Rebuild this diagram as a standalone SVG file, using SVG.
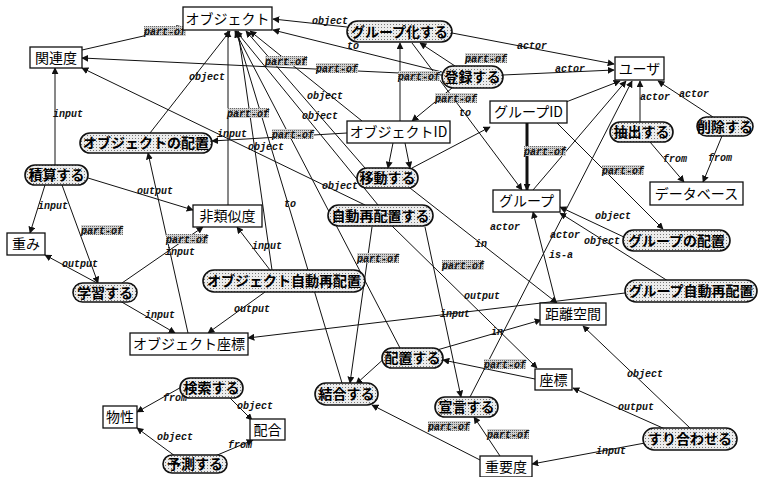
<svg xmlns="http://www.w3.org/2000/svg" width="758" height="477" viewBox="0 0 758 477">
<style>
.e{stroke:#111;stroke-width:1;fill:none;marker-end:url(#ar)}
.t{stroke:#111;stroke-width:3;fill:none;marker-end:url(#ar)}
.l{font-family:"Liberation Mono",monospace;font-size:10px;font-weight:bold;font-style:italic;fill:#111;text-anchor:middle}
.pb{fill:url(#dl)}
.r{fill:#fff;stroke:#111;stroke-width:1.3}
.p{fill:url(#dt);stroke:#111;stroke-width:1.6}
.rt{font-family:"Noto Sans CJK JP",sans-serif;font-size:14px;fill:#000;text-anchor:middle}
.pt{font-family:"Noto Sans CJK JP",sans-serif;font-size:14px;font-weight:bold;fill:#000;text-anchor:middle}
</style>
<defs>
<marker id="ar" viewBox="0 0 10 10" refX="9" refY="5" markerWidth="7" markerHeight="7" markerUnits="userSpaceOnUse" orient="auto"><path d="M0,0 L10,5 L0,10 z" fill="#111"/></marker>
<pattern id="dt" width="3" height="3" patternUnits="userSpaceOnUse"><rect width="3" height="3" fill="#ececec"/><rect width="1" height="1" fill="#777"/></pattern>
<pattern id="dl" width="2" height="2" patternUnits="userSpaceOnUse"><rect width="2" height="2" fill="#d0d0d0"/><rect width="1" height="1" fill="#666"/></pattern>
</defs>
<rect width="758" height="477" fill="#fff"/>
<g id="connectors">
<path class="e" d="M82,50 L183,27"/>
<path class="e" d="M442,75 L82,58"/>
<path class="e" d="M347,27 L273,19"/>
<path class="e" d="M442,72 L273,30"/>
<path class="e" d="M400,121 L400,43"/>
<path class="e" d="M455,66 L420,43"/>
<path class="e" d="M412,43 L522,190"/>
<path class="e" d="M452,88 L412,121"/>
<path class="e" d="M452,33 L614,64"/>
<path class="e" d="M503,75 L614,70"/>
<path class="e" d="M640,122 L640,81"/>
<path class="e" d="M713,117 L658,81"/>
<path class="e" d="M566,102 L620,81"/>
<path class="e" d="M533,190 L626,81"/>
<path class="e" d="M470,397 L632,81"/>
<path class="e" d="M650,142 L684,182"/>
<path class="e" d="M722,136 L703,182"/>
<path class="t" d="M527,123 L527,190"/>
<path class="e" d="M557,123 L663,229"/>
<path class="e" d="M626,238 L560,207"/>
<path class="e" d="M668,281 L560,213"/>
<path class="e" d="M625,293 L248,338"/>
<path class="e" d="M556,303 L533,212"/>
<path class="e" d="M410,188 L557,303"/>
<path class="e" d="M437,350 L541,320"/>
<path class="e" d="M392,226 L537,368"/>
<path class="e" d="M535,379 L443,360"/>
<path class="e" d="M690,428 L583,326"/>
<path class="e" d="M665,429 L573,388"/>
<path class="e" d="M645,443 L532,464"/>
<path class="e" d="M500,456 L474,417"/>
<path class="e" d="M482,461 L372,405"/>
<path class="e" d="M372,227 L350,383"/>
<path class="e" d="M342,383 L236,31"/>
<path class="e" d="M387,356 L356,384"/>
<path class="e" d="M425,227 L461,397"/>
<path class="e" d="M228,205 L228,31"/>
<path class="e" d="M272,270 L238,31"/>
<path class="e" d="M365,168 L246,31"/>
<path class="e" d="M362,121 L250,31"/>
<path class="e" d="M150,133 L230,31"/>
<path class="e" d="M347,133 L212,141"/>
<path class="e" d="M365,205 L82,68"/>
<path class="e" d="M55,165 L55,68"/>
<path class="e" d="M45,185 L30,233"/>
<path class="e" d="M62,185 L98,283"/>
<path class="e" d="M88,178 L193,210"/>
<path class="e" d="M97,283 L45,255"/>
<path class="e" d="M122,283 L203,227"/>
<path class="e" d="M120,301 L175,333"/>
<path class="e" d="M188,333 L148,153"/>
<path class="e" d="M270,270 L237,227"/>
<path class="e" d="M265,292 L208,333"/>
<path class="e" d="M185,385 L137,412"/>
<path class="e" d="M230,398 L252,420"/>
<path class="e" d="M175,456 L137,428"/>
<path class="e" d="M215,456 L253,440"/>
<path class="e" d="M400,348 L235,31"/>
<path class="e" d="M412,168 L490,127"/>
<path class="e" d="M393,143 L388,168"/>
<path class="e" d="M405,143 L410,168"/>
<path class="e" d="M378,205 L236,31"/>
</g>
<g id="labels">
<rect class="pb" x="144" y="26" width="42" height="10"/><text class="l" x="165" y="35">part-of</text>
<rect class="pb" x="265" y="56" width="42" height="10"/><text class="l" x="286" y="65">part-of</text>
<rect class="pb" x="316" y="63" width="42" height="10"/><text class="l" x="337" y="72">part-of</text>
<text class="l" x="330" y="24">object</text>
<text class="l" x="353" y="49">to</text>
<rect class="pb" x="398" y="71" width="42" height="10"/><text class="l" x="419" y="80">part-of</text>
<rect class="pb" x="465" y="53" width="42" height="10"/><text class="l" x="486" y="62">part-of</text>
<text class="l" x="465" y="116">to</text>
<rect class="pb" x="435" y="93" width="42" height="10"/><text class="l" x="456" y="102">part-of</text>
<text class="l" x="532" y="49">actor</text>
<text class="l" x="570" y="72">actor</text>
<text class="l" x="655" y="100">actor</text>
<text class="l" x="694" y="97">actor</text>
<text class="l" x="565" y="238">actor</text>
<text class="l" x="505" y="230">actor</text>
<text class="l" x="675" y="162">from</text>
<text class="l" x="720" y="161">from</text>
<rect class="pb" x="524" y="146" width="42" height="10"/><text class="l" x="545" y="155">part-of</text>
<rect class="pb" x="602" y="165" width="42" height="10"/><text class="l" x="623" y="174">part-of</text>
<text class="l" x="613" y="219">object</text>
<text class="l" x="602" y="244">object</text>
<text class="l" x="455" y="317">input</text>
<text class="l" x="561" y="258">is-a</text>
<text class="l" x="481" y="247">in</text>
<text class="l" x="497" y="335">in</text>
<text class="l" x="482" y="299">output</text>
<rect class="pb" x="442" y="260" width="42" height="10"/><text class="l" x="463" y="269">part-of</text>
<rect class="pb" x="484" y="359" width="42" height="10"/><text class="l" x="505" y="368">part-of</text>
<text class="l" x="645" y="377">object</text>
<text class="l" x="636" y="410">output</text>
<text class="l" x="611" y="454">input</text>
<rect class="pb" x="487" y="429" width="42" height="10"/><text class="l" x="508" y="438">part-of</text>
<rect class="pb" x="428" y="421" width="42" height="10"/><text class="l" x="449" y="430">part-of</text>
<rect class="pb" x="357" y="253" width="42" height="10"/><text class="l" x="378" y="262">part-of</text>
<text class="l" x="290" y="207">to</text>
<rect class="pb" x="227" y="108" width="42" height="10"/><text class="l" x="248" y="117">part-of</text>
<text class="l" x="266" y="150">object</text>
<text class="l" x="320" y="119">object</text>
<text class="l" x="325" y="99">object</text>
<text class="l" x="207" y="80">object</text>
<text class="l" x="232" y="137">input</text>
<rect class="pb" x="272" y="129" width="42" height="10"/><text class="l" x="293" y="138">part-of</text>
<text class="l" x="340" y="189">object</text>
<text class="l" x="68" y="117">input</text>
<text class="l" x="53" y="209">input</text>
<rect class="pb" x="81" y="225" width="42" height="10"/><text class="l" x="102" y="234">part-of</text>
<text class="l" x="155" y="194">output</text>
<text class="l" x="80" y="267">output</text>
<rect class="pb" x="166" y="234" width="42" height="10"/><text class="l" x="187" y="243">part-of</text>
<text class="l" x="180" y="255">input</text>
<text class="l" x="160" y="318">input</text>
<text class="l" x="267" y="249">input</text>
<text class="l" x="252" y="312">output</text>
<text class="l" x="175" y="401">from</text>
<text class="l" x="255" y="409">object</text>
<text class="l" x="175" y="440">object</text>
<text class="l" x="240" y="448">from</text>
</g>
<g id="n-obj"><rect class="r" x="183" y="7" width="89" height="23"/><text class="rt" x="227.5" y="23.5">オブジェクト</text></g>
<g id="n-kanren"><rect class="r" x="30" y="47" width="52" height="21"/><text class="rt" x="56" y="62.5">関連度</text></g>
<g id="n-user"><rect class="r" x="615" y="57" width="49" height="23"/><text class="rt" x="639.5" y="73.5">ユーザ</text></g>
<g id="n-objid"><rect class="r" x="347" y="121" width="103" height="22"/><text class="rt" x="398.5" y="137">オブジェクトID</text></g>
<g id="n-grpid"><rect class="r" x="490" y="101" width="77" height="22"/><text class="rt" x="528.5" y="117">グループID</text></g>
<g id="n-grp"><rect class="r" x="493" y="190" width="67" height="22"/><text class="rt" x="526.5" y="206">グループ</text></g>
<g id="n-db"><rect class="r" x="650" y="182" width="93" height="23"/><text class="rt" x="696.5" y="198.5">データベース</text></g>
<g id="n-hiruiji"><rect class="r" x="193" y="205" width="69" height="22"/><text class="rt" x="227.5" y="221">非類似度</text></g>
<g id="n-omomi"><rect class="r" x="7" y="233" width="38" height="22"/><text class="rt" x="26" y="249">重み</text></g>
<g id="n-objzahyo"><rect class="r" x="130" y="333" width="118" height="22"/><text class="rt" x="189" y="349">オブジェクト座標</text></g>
<g id="n-kyori"><rect class="r" x="540" y="303" width="66" height="22"/><text class="rt" x="573" y="319">距離空間</text></g>
<g id="n-zahyo"><rect class="r" x="535" y="369" width="37" height="21"/><text class="rt" x="553.5" y="384.5">座標</text></g>
<g id="n-juyodo"><rect class="r" x="480" y="456" width="52" height="21"/><text class="rt" x="506" y="471.5">重要度</text></g>
<g id="n-bussei"><rect class="r" x="103" y="406" width="34" height="22"/><text class="rt" x="120" y="422">物性</text></g>
<g id="n-haigo"><rect class="r" x="250" y="419" width="35" height="21"/><text class="rt" x="267.5" y="434.5">配合</text></g>
<g id="n-grouping"><rect class="p" x="347" y="21" width="105" height="21" rx="10.5"/><text class="pt" x="399.5" y="36.5">グループ化する</text></g>
<g id="n-toroku"><rect class="p" x="442" y="66" width="61" height="22" rx="11"/><text class="pt" x="472.5" y="82">登録する</text></g>
<g id="n-chushutsu"><rect class="p" x="610" y="122" width="63" height="20" rx="10"/><text class="pt" x="641.5" y="137">抽出する</text></g>
<g id="n-sakujo"><rect class="p" x="697" y="117" width="56" height="19" rx="9.5"/><text class="pt" x="725" y="131.5">削除する</text></g>
<g id="n-objhaichi"><rect class="p" x="80" y="133" width="132" height="20" rx="10"/><text class="pt" x="146" y="148">オブジェクトの配置</text></g>
<g id="n-sekisan"><rect class="p" x="25" y="165" width="63" height="20" rx="10"/><text class="pt" x="56.5" y="180">積算する</text></g>
<g id="n-gakushu"><rect class="p" x="73" y="283" width="64" height="19" rx="9.5"/><text class="pt" x="105" y="297.5">学習する</text></g>
<g id="n-ido"><rect class="p" x="357" y="168" width="61" height="20" rx="10"/><text class="pt" x="387.5" y="183">移動する</text></g>
<g id="n-jido"><rect class="p" x="328" y="205" width="105" height="21" rx="10.5"/><text class="pt" x="380.5" y="220.5">自動再配置する</text></g>
<g id="n-objjido"><rect class="p" x="203" y="270" width="162" height="22" rx="11"/><text class="pt" x="284" y="286">オブジェクト自動再配置</text></g>
<g id="n-grphaichi"><rect class="p" x="623" y="230" width="107" height="21" rx="10.5"/><text class="pt" x="676.5" y="245.5">グループの配置</text></g>
<g id="n-grpjido"><rect class="p" x="625" y="280" width="132" height="22" rx="11"/><text class="pt" x="691" y="296">グループ自動再配置</text></g>
<g id="n-haichi"><rect class="p" x="382" y="348" width="61" height="20" rx="10"/><text class="pt" x="412.5" y="363">配置する</text></g>
<g id="n-sengen"><rect class="p" x="435" y="397" width="63" height="20" rx="10"/><text class="pt" x="466.5" y="412">宣言する</text></g>
<g id="n-ketsugo"><rect class="p" x="315" y="383" width="63" height="22" rx="11"/><text class="pt" x="346.5" y="399">結合する</text></g>
<g id="n-suriawase"><rect class="p" x="643" y="428" width="94" height="22" rx="11"/><text class="pt" x="690" y="444">すり合わせる</text></g>
<g id="n-kensaku"><rect class="p" x="180" y="378" width="63" height="20" rx="10"/><text class="pt" x="211.5" y="393">検索する</text></g>
<g id="n-yosoku"><rect class="p" x="163" y="455" width="64" height="18" rx="9"/><text class="pt" x="195" y="469">予測する</text></g>
</svg>
